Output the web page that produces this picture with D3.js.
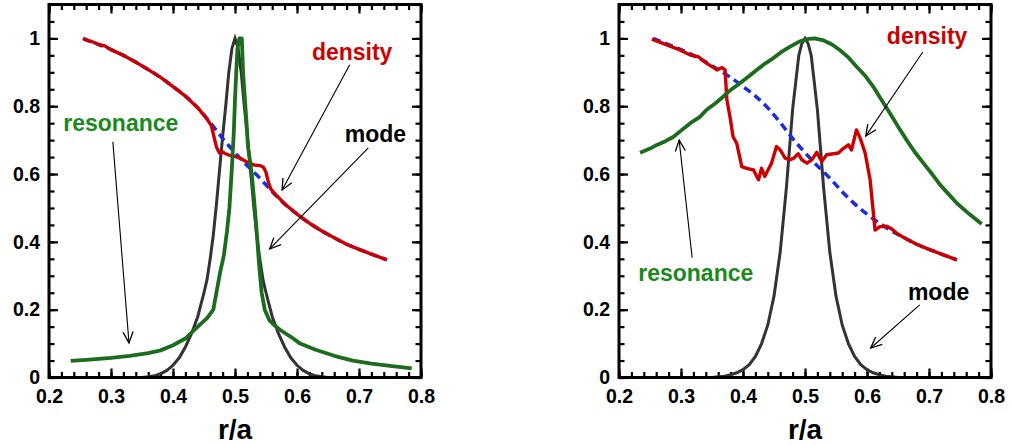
<!DOCTYPE html>
<html><head><meta charset="utf-8">
<script src="https://cdn.jsdelivr.net/npm/d3@7"></script>
<style>body{margin:0;background:#fff}svg{display:block}</style>
</head><body><svg id="c" width="1012" height="446"></svg>
<script>
// ---------- data ----------
const xTicks = [0.2,0.3,0.4,0.5,0.6,0.7,0.8];
const yTicks = [0,0.2,0.4,0.6,0.8,1];
const xLabel = "r/a";

// equilibrium (blue dashed) density profile, same in both panels
const blueX = [0.255,0.28,0.30,0.32,0.34,0.36,0.38,0.40,0.42,0.44,0.46,0.48,0.50,0.52,0.54,0.56,0.58,0.60,0.62,0.64,0.66,0.68,0.70,0.72,0.745];
const blueY = [1.0,0.982,0.967,0.95,0.93,0.908,0.885,0.858,0.83,0.795,0.752,0.705,0.663,0.624,0.588,0.548,0.512,0.482,0.455,0.432,0.412,0.393,0.378,0.364,0.347];

// left panel
const densLX = [0.255,0.26,0.27,0.28,0.29,0.30,0.32,0.34,0.36,0.38,0.40,0.42,0.44,0.455,0.462,0.466,0.47,0.475,0.48,0.485,0.49,0.50,0.51,0.52,0.53,0.54,0.546,0.55,0.554,0.558,0.565,0.58,0.60,0.62,0.64,0.66,0.68,0.70,0.72,0.745];
const densLY = [1.0,0.995,0.99,0.982,0.978,0.967,0.95,0.93,0.908,0.885,0.858,0.83,0.795,0.762,0.742,0.71,0.68,0.662,0.665,0.66,0.656,0.652,0.645,0.635,0.627,0.625,0.62,0.605,0.575,0.555,0.541,0.512,0.482,0.455,0.432,0.412,0.393,0.378,0.364,0.347];
const resLX = [0.235,0.26,0.28,0.30,0.33,0.36,0.38,0.40,0.42,0.44,0.455,0.465,0.47,0.476,0.482,0.487,0.491,0.495,0.498,0.5,0.502,0.504,0.507,0.511,0.513,0.516,0.519,0.521,0.524,0.527,0.531,0.535,0.539,0.543,0.548,0.555,0.563,0.573,0.59,0.605,0.63,0.66,0.69,0.72,0.75,0.785];
const resLY = [0.049,0.052,0.055,0.058,0.064,0.072,0.08,0.095,0.115,0.15,0.175,0.2,0.25,0.31,0.36,0.43,0.5,0.62,0.72,0.82,0.9,0.97,1.0,1.0,0.9,0.82,0.74,0.68,0.64,0.6,0.52,0.43,0.33,0.25,0.2,0.17,0.155,0.14,0.12,0.1,0.082,0.064,0.05,0.041,0.034,0.027];
const modeLX = [0.35,0.36,0.37,0.38,0.39,0.40,0.41,0.42,0.43,0.44,0.45,0.455,0.46,0.465,0.47,0.475,0.48,0.485,0.49,0.495,0.5,0.505,0.51,0.515,0.52,0.525,0.53,0.535,0.54,0.545,0.55,0.56,0.57,0.58,0.59,0.60,0.61,0.62,0.63,0.64,0.65];
const modeLY = [0,0.002,0.005,0.011,0.021,0.036,0.058,0.09,0.13,0.18,0.25,0.29,0.35,0.42,0.51,0.61,0.71,0.80,0.90,0.97,1.0,0.97,0.90,0.80,0.71,0.61,0.51,0.42,0.35,0.29,0.25,0.18,0.13,0.09,0.058,0.036,0.021,0.011,0.005,0.002,0];

// right panel
const densRX = [0.253,0.277,0.298,0.315,0.328,0.341,0.358,0.366,0.371,0.374,0.379,0.384,0.39,0.398,0.406,0.417,0.425,0.43,0.435,0.446,0.454,0.46,0.468,0.476,0.482,0.489,0.495,0.503,0.511,0.519,0.527,0.535,0.546,0.554,0.559,0.57,0.575,0.583,0.589,0.597,0.605,0.613,0.621,0.632,0.64,0.648,0.66,0.68,0.70,0.72,0.745];
const densRY = [0.998,0.981,0.966,0.951,0.946,0.927,0.907,0.914,0.907,0.819,0.769,0.71,0.69,0.622,0.617,0.612,0.583,0.617,0.593,0.632,0.681,0.671,0.647,0.642,0.647,0.66,0.642,0.632,0.642,0.664,0.637,0.657,0.66,0.662,0.671,0.686,0.671,0.73,0.706,0.662,0.583,0.435,0.445,0.446,0.438,0.425,0.412,0.393,0.378,0.364,0.347];
const resRX = [0.234,0.25,0.261,0.275,0.288,0.30,0.315,0.33,0.341,0.355,0.368,0.38,0.395,0.41,0.422,0.435,0.449,0.462,0.476,0.49,0.503,0.515,0.53,0.543,0.556,0.57,0.583,0.597,0.61,0.623,0.637,0.65,0.664,0.677,0.691,0.705,0.718,0.732,0.745,0.765,0.785];
const resRY = [0.663,0.675,0.686,0.697,0.71,0.728,0.75,0.768,0.789,0.808,0.828,0.848,0.868,0.889,0.907,0.925,0.942,0.96,0.976,0.99,0.998,1.0,0.994,0.983,0.966,0.944,0.917,0.89,0.858,0.82,0.779,0.74,0.7,0.665,0.632,0.6,0.568,0.54,0.514,0.482,0.453];
const modeRX = [0.35,0.36,0.37,0.38,0.39,0.40,0.41,0.42,0.43,0.44,0.45,0.46,0.47,0.48,0.49,0.495,0.5,0.505,0.51,0.52,0.53,0.54,0.55,0.56,0.57,0.58,0.59,0.60,0.61,0.62,0.63,0.64,0.65];
const modeRY = [0,0.002,0.004,0.008,0.014,0.023,0.038,0.062,0.1,0.155,0.24,0.37,0.56,0.79,0.95,0.985,1.0,0.985,0.95,0.79,0.56,0.37,0.24,0.155,0.1,0.062,0.038,0.023,0.014,0.008,0.004,0.002,0];

// annotations (data coordinates)
const notesL = [
  {text:"density", cls:"red", x:0.624, y:0.937, ax:[0.685,0.922,0.576,0.553]},
  {text:"mode", cls:"blk", x:0.677, y:0.695, ax:[0.715,0.677,0.556,0.379]},
  {text:"resonance", cls:"grn", x:0.223, y:0.727, ax:[0.303,0.695,0.329,0.102]}
];
const notesR = [
  {text:"density", cls:"red", x:0.632, y:0.984, ax:[0.69,0.96,0.598,0.712]},
  {text:"resonance", cls:"grn", x:0.231, y:0.285, ax:[0.318,0.353,0.297,0.70]},
  {text:"mode", cls:"blk", x:0.666, y:0.229, ax:[0.685,0.214,0.606,0.087]}
];

// ---------- drawing ----------
const svg = d3.select("#c");
const FONT = "'Liberation Sans', Arial, sans-serif";
const COL = {red:"#cc0000", grn:"#1a8a1a", blk:"#000", line_grn:"#1d6b1d", blue:"#1a2be6", mode:"#333"};

svg.append("defs").append("marker")
  .attr("id","arr").attr("markerUnits","userSpaceOnUse")
  .attr("markerWidth",14).attr("markerHeight",14)
  .attr("refX",12).attr("refY",7).attr("orient","auto")
  .append("path").attr("d","M1,2 L12,7 L1,12")
  .attr("fill","none").attr("stroke","#000").attr("stroke-width",1.3);

function zip(xs, ys){ return xs.map((x,i)=>[x, ys[i]]); }

function panel(x0, x1, series, notes){
  const top = 4.5, bot = 377.5;
  const x = d3.scaleLinear().domain([0.2,0.8]).range([x0,x1]);
  const y = d3.scaleLinear().domain([0,1.1]).range([bot,top]);
  const g = svg.append("g");
  const fmt = d=>String(+d.toFixed(1));
  const xMinor = d3.range(0.2,0.8001,0.02).map(v=>+v.toFixed(2));
  const yMinor = d3.range(0,1.1001,0.05).map(v=>+v.toFixed(2));

  function styleAxis(sel, labels){
    sel.select(".domain").remove();
    sel.selectAll("line").attr("stroke","#000").attr("stroke-width",2.2);
    sel.selectAll("text").attr("font-family",FONT).attr("font-weight","bold")
       .attr("font-size",19.5).attr("fill","#000");
    if(!labels) sel.selectAll("text").remove();
  }
  // bottom
  g.append("g").attr("transform",`translate(0,${bot})`)
    .call(d3.axisBottom(x).tickValues(xMinor).tickSize(-5.5).tickFormat(""))
    .call(s=>styleAxis(s,false));
  g.append("g").attr("transform",`translate(0,${bot})`)
    .call(d3.axisBottom(x).tickValues(xTicks).tickSize(-9).tickPadding(12).tickFormat(fmt))
    .call(s=>styleAxis(s,true));
  // top
  g.append("g").attr("transform",`translate(0,${top})`)
    .call(d3.axisTop(x).tickValues(xMinor).tickSize(-5.5).tickFormat(""))
    .call(s=>styleAxis(s,false));
  g.append("g").attr("transform",`translate(0,${top})`)
    .call(d3.axisTop(x).tickValues(xTicks).tickSize(-9).tickFormat(""))
    .call(s=>styleAxis(s,false));
  // left
  g.append("g").attr("transform",`translate(${x0},0)`)
    .call(d3.axisLeft(y).tickValues(yMinor).tickSize(-5.5).tickFormat(""))
    .call(s=>styleAxis(s,false));
  g.append("g").attr("transform",`translate(${x0},0)`)
    .call(d3.axisLeft(y).tickValues(yTicks).tickSize(-9).tickPadding(9).tickFormat(fmt))
    .call(s=>styleAxis(s,true));
  // right
  g.append("g").attr("transform",`translate(${x1},0)`)
    .call(d3.axisRight(y).tickValues(yMinor).tickSize(-5.5).tickFormat(""))
    .call(s=>styleAxis(s,false));
  g.append("g").attr("transform",`translate(${x1},0)`)
    .call(d3.axisRight(y).tickValues(yTicks).tickSize(-9).tickFormat(""))
    .call(s=>styleAxis(s,false));

  // lines
  const line = d3.line().x(d=>x(d[0])).y(d=>y(d[1]));
  const pg = g.append("g");
  pg.append("path").datum(series.mode).attr("d",line)
    .attr("fill","none").attr("stroke",COL.mode).attr("stroke-width",3);
  pg.append("path").datum(series.blue).attr("d",line.curve(d3.curveMonotoneX))
    .attr("fill","none").attr("stroke",COL.blue).attr("stroke-width",3.5)
    .attr("stroke-dasharray","8,5");
  line.curve(d3.curveLinear);
  pg.append("path").datum(series.dens).attr("d",line)
    .attr("fill","none").attr("stroke",COL.red).attr("stroke-width",3.4)
    .attr("stroke-linejoin","round");
  pg.append("path").datum(series.res).attr("d",line)
    .attr("fill","none").attr("stroke",COL.line_grn).attr("stroke-width",3.8)
    .attr("stroke-linejoin","round");

  // frame
  g.append("rect").attr("x",x0).attr("y",top).attr("width",x1-x0).attr("height",bot-top)
    .attr("fill","none").attr("stroke","#000").attr("stroke-width",3);

  // axis title
  g.append("text").attr("x",x(0.5)).attr("y",439).attr("text-anchor","middle")
    .attr("font-family",FONT).attr("font-weight","bold").attr("font-size",28)
    .text(xLabel);

  // annotations
  notes.forEach(n=>{
    g.append("line").attr("x1",x(n.ax[0])).attr("y1",y(n.ax[1]))
      .attr("x2",x(n.ax[2])).attr("y2",y(n.ax[3]))
      .attr("stroke","#000").attr("stroke-width",1.1).attr("marker-end","url(#arr)");
    g.append("text").attr("x",x(n.x)).attr("y",y(n.y))
      .attr("font-family",FONT).attr("font-weight","bold").attr("font-size",23)
      .attr("fill",COL[n.cls]).text(n.text);
  });
}

panel(49, 421, {mode:zip(modeLX,modeLY), blue:zip(blueX,blueY), dens:zip(densLX,densLY), res:zip(resLX,resLY)}, notesL);
panel(619, 991, {mode:zip(modeRX,modeRY), blue:zip(blueX,blueY), dens:zip(densRX,densRY), res:zip(resRX,resRY)}, notesR);
</script>
</body></html>
